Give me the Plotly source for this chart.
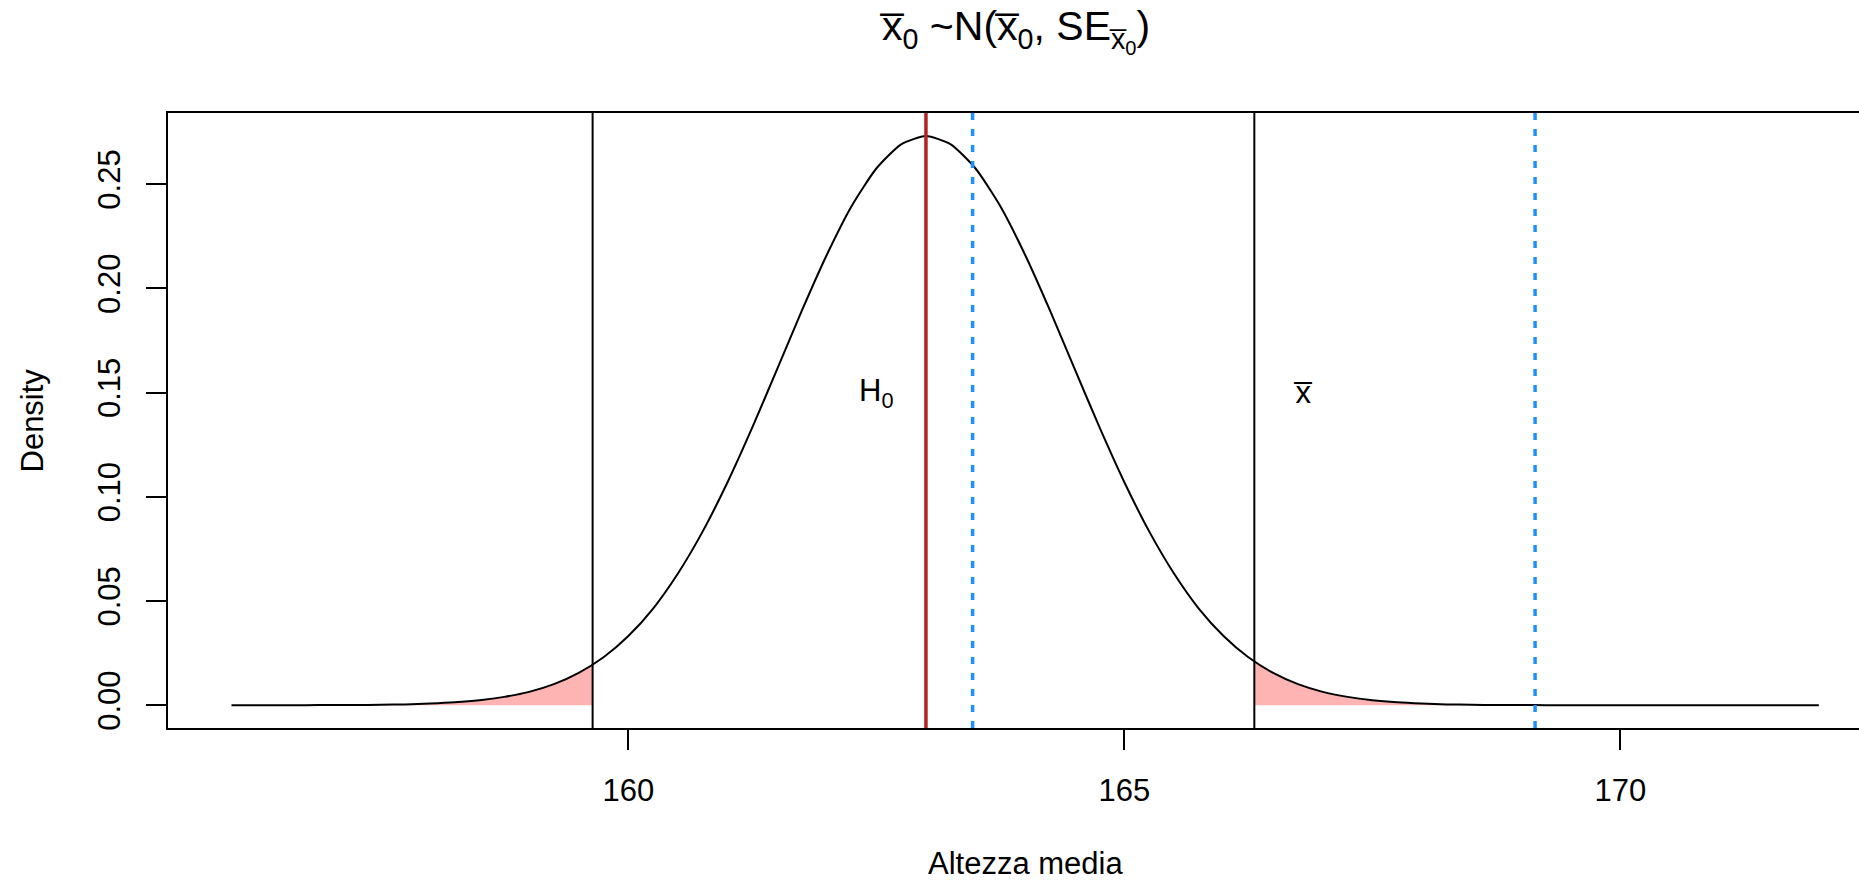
import plotly.graph_objects as go

# ---- data ----
curve_x = [156.0, 156.25, 156.5, 156.75, 157.0, 157.25, 157.5, 157.75, 158.0, 158.25,
           158.5, 158.75, 159.0, 159.25, 159.5, 159.75, 160.0, 160.25, 160.5, 160.75,
           161.0, 161.25, 161.5, 161.75, 162.0, 162.25, 162.5, 162.75, 163.0, 163.25,
           163.5, 163.75, 164.0, 164.25, 164.5, 164.75, 165.0, 165.25, 165.5, 165.75,
           166.0, 166.25, 166.5, 166.75, 167.0, 167.25, 167.5, 167.75, 168.0, 168.25,
           168.5, 168.75, 169.0, 169.25, 169.5, 169.75, 170.0, 170.25, 170.5, 170.75,
           171.0, 171.25, 171.5, 171.75, 172.0]
curve_y = [0.0, 0.0, 0.0, 0.0, 0.0001, 0.0001, 0.0002, 0.0004, 0.0008, 0.0014,
           0.0024, 0.0040, 0.0064, 0.0101, 0.0155, 0.0230, 0.0332, 0.0464, 0.0632, 0.0834,
           0.1070, 0.1333, 0.1612, 0.1894, 0.2160, 0.2394, 0.2575, 0.2691, 0.2731, 0.2691,
           0.2575, 0.2394, 0.2160, 0.1894, 0.1612, 0.1333, 0.1070, 0.0834, 0.0632, 0.0464,
           0.0332, 0.0230, 0.0155, 0.0101, 0.0064, 0.0040, 0.0024, 0.0014, 0.0008, 0.0004,
           0.0002, 0.0001, 0.0001, 0.0, 0.0, 0.0, 0.0, 0.0, 0.0, 0.0,
           0.0, 0.0, 0.0, 0.0, 0.0]

crit_values = [159.64, 166.31]       # black vertical lines (rejection bounds)
crit_density = [0.0195, 0.0212]      # curve height at the bounds
h0_value = 163.0                     # red line
blue_values = [163.47, 169.14]       # dotted blue lines

x_ticks = [160, 165, 170]
y_ticks = [0.00, 0.05, 0.10, 0.15, 0.20, 0.25]
y_tick_text = ["0.00", "0.05", "0.10", "0.15", "0.20", "0.25"]

h0_label_pos = (162.5, 0.15)
xbar_label_pos = (166.8, 0.15)

FONT = "Liberation Sans, Arial, Helvetica, sans-serif"
XBAR = "x\u0305"

# ---- tails ----
lo, hi = crit_values
left_x = [x for x in curve_x if x <= lo] + [lo, lo, curve_x[0]]
left_y = [y for x, y in zip(curve_x, curve_y) if x <= lo] + [crit_density[0], 0, 0]
right_x = [hi, hi] + [x for x in curve_x if x >= hi] + [curve_x[-1]]
right_y = [0, crit_density[1]] + [y for x, y in zip(curve_x, curve_y) if x >= hi] + [0]

fig = go.Figure()
fig.add_trace(go.Scatter(x=left_x, y=left_y, fill="toself", fillcolor="#FFB4B4",
                         line=dict(width=0), mode="lines", hoverinfo="skip"))
fig.add_trace(go.Scatter(x=right_x, y=right_y, fill="toself", fillcolor="#FFB4B4",
                         line=dict(width=0), mode="lines", hoverinfo="skip"))
fig.add_trace(go.Scatter(x=curve_x, y=curve_y, mode="lines",
                         line=dict(color="black", width=2, shape="spline", smoothing=0.6)))

for v in crit_values:
    fig.add_shape(type="line", xref="x", yref="paper", x0=v, x1=v, y0=0, y1=1,
                  line=dict(color="black", width=2))
fig.add_shape(type="line", xref="x", yref="paper", x0=h0_value, x1=h0_value, y0=0, y1=1,
              line=dict(color="#B22222", width=3.5))
for v in blue_values:
    fig.add_shape(type="line", xref="x", yref="paper", x0=v, x1=v, y0=0, y1=1,
                  line=dict(color="#1E90FF", width=3.5, dash="7px,9px"))

fig.add_annotation(x=h0_label_pos[0], y=h0_label_pos[1], xref="x", yref="y",
                   text="H<sub>0</sub>", showarrow=False,
                   font=dict(size=31, color="black", family=FONT))
fig.add_annotation(x=xbar_label_pos[0], y=xbar_label_pos[1], xref="x", yref="y",
                   text=XBAR, showarrow=False,
                   font=dict(size=31, color="black", family=FONT))

# title
fig.add_annotation(x=163.9, y=1, xref="x", yref="paper", yanchor="middle", yshift=82,
                   text=f"{XBAR}<sub>0</sub> ~N({XBAR}<sub>0</sub>, SE<sub>{XBAR}<sub>0</sub></sub>)",
                   showarrow=False, font=dict(size=41, color="black", family=FONT))
# axis titles
fig.add_annotation(x=164.0, y=0, xref="x", yref="paper", yanchor="middle", yshift=-135,
                   text="Altezza media", showarrow=False,
                   font=dict(size=31, color="black", family=FONT))
fig.add_annotation(x=0, y=0.5, xref="paper", yref="paper", xanchor="center",
                   xshift=-136, textangle=-90, text="Density", showarrow=False,
                   font=dict(size=31, color="black", family=FONT))

fig.update_layout(
    width=1859, height=880,
    margin=dict(l=168, r=0, t=113, b=152),
    paper_bgcolor="white", plot_bgcolor="white",
    showlegend=False,
    font=dict(family=FONT, size=31, color="black"),
    xaxis=dict(range=[155.36, 172.405], tickvals=x_ticks, ticks="outside", ticklen=20,
               tickwidth=2, tickcolor="black", showgrid=False, zeroline=False,
               showline=True, linecolor="black", linewidth=2, mirror=True,
               ticklabelstandoff=14, tickfont=dict(size=31)),
    yaxis=dict(range=[-0.01093, 0.28413], tickvals=y_ticks, ticktext=y_tick_text,
               ticks="outside", ticklen=20, tickwidth=2, tickcolor="black",
               showgrid=False, zeroline=False, showline=True, linecolor="black",
               linewidth=2, mirror=False, tickangle=-90, ticklabelstandoff=14,
               tickfont=dict(size=31)),
)

fig.write_html("out.html")
